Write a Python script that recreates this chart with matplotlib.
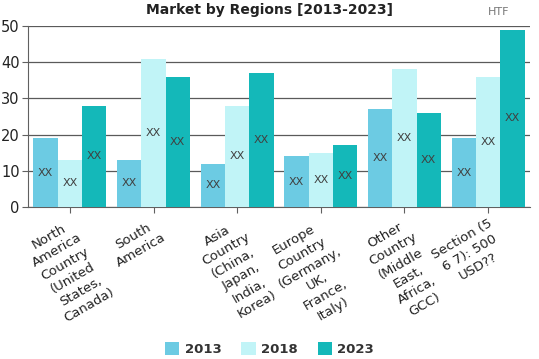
import matplotlib
matplotlib.use("Agg")
import matplotlib.pyplot as plt
import numpy as np

categories = ["North\nAmerica\nCountry\n(United\nStates,\nCanada)",
              "South\nAmerica",
              "Asia\nCountry\n(China,\nJapan,\nIndia,\nKorea)",
              "Europe\nCountry\n(Germany,\nUK,\nFrance,\nItaly)",
              "Other\nCountry\n(Middle\nEast,\nAfrica,\nGCC)",
              "Section (5\n6 7): 500\nUSD??"]
series_names = ["2013", "2018", "2023"]
v2013 = [19, 13, 12, 14, 27, 19]
v2018 = [13, 41, 28, 15, 38, 36]
v2023 = [28, 36, 37, 17, 26, 49]
colors = ["#6ccbe3", "#c1f4f7", "#14b8b9"]

fig = plt.figure(figsize=(5.39, 3.59), dpi=100)
ax = fig.add_axes([28/539, 1-207/359, (530-28)/539, (207-26)/359])

x = np.arange(len(categories))
w = 0.29
for i, (vals, c, name) in enumerate(zip([v2013, v2018, v2023], colors, series_names)):
    pos = x + (i - 1) * w
    ax.bar(pos, vals, width=w, color=c, label=name, zorder=3)
    for p, v in zip(pos, vals):
        ax.text(p, v / 2, "XX", ha="center", va="center", fontsize=8, color="#404040", zorder=4)

ax.set_ylim(0, 50)
ax.set_xlim(-0.5, len(categories) - 0.5)
ax.set_yticks([0, 10, 20, 30, 40, 50])
ax.tick_params(axis="y", length=4, labelsize=10.5, color="#606060", pad=2, labelcolor="#222222")
ax.yaxis.grid(True, color="#5a5a5a", linewidth=0.9, zorder=0)
ax.set_xticks(x)
ax.set_xticklabels(categories, rotation=30, ha="right", rotation_mode="anchor",
                   multialignment="center", fontsize=9.5, color="#222222", linespacing=1.3)
ax.tick_params(axis="x", length=4, color="#606060", pad=3)
for s in ["top", "right"]:
    ax.spines[s].set_visible(False)
for s in ["left", "bottom"]:
    ax.spines[s].set_color("#606060")

fig.text(0.5, 1 - 10/359, "Market by Regions [2013-2023]", ha="center", va="center",
         fontsize=10, fontweight="bold", color="#222222")
fig.text(0.925, 1 - 12/359, "HTF", ha="center", va="center", fontsize=8, color="#777777")

leg = fig.legend(loc="center", bbox_to_anchor=(0.5, 1 - 349/359), ncol=3, frameon=False,
                 fontsize=9.5, handlelength=1.1, handleheight=1.1, columnspacing=1.5, handletextpad=0.4)
for t in leg.get_texts():
    t.set_color("#333333")
    t.set_fontweight("bold")

fig.savefig("out.png", dpi=100)
